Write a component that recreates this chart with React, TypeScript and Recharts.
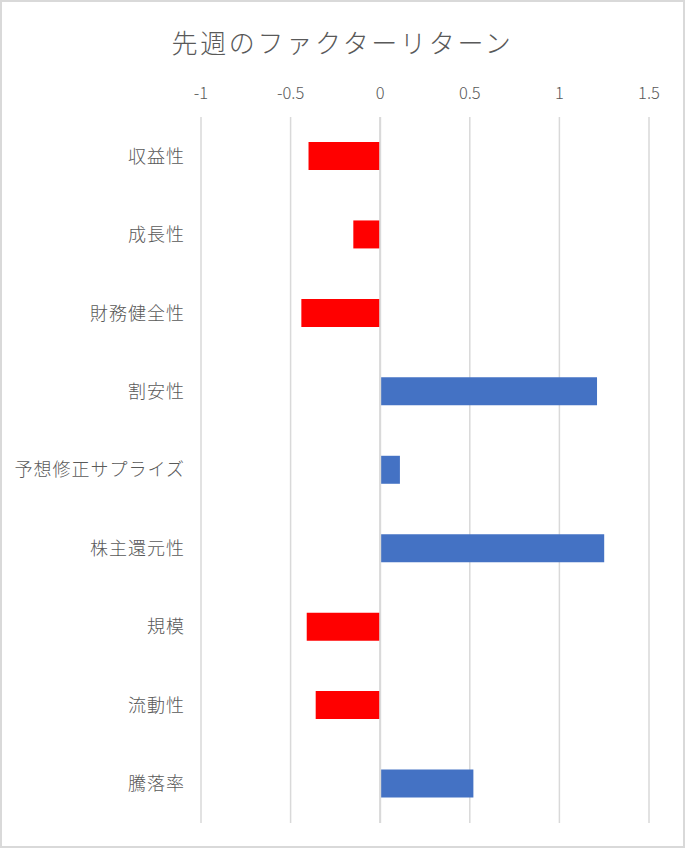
import React from 'react';
import { BarChart, Bar, XAxis, YAxis, CartesianGrid, Cell, ReferenceLine } from 'recharts';

const categories = ['収益性', '成長性', '財務健全性', '割安性', '予想修正サプライズ', '株主還元性', '規模', '流動性', '騰落率'];
const values = [-0.4, -0.15, -0.44, 1.21, 0.11, 1.25, -0.41, -0.36, 0.52];
const xTicks = [-1, -0.5, 0, 0.5, 1, 1.5];
const title = '先週のファクターリターン';

const data = categories.map((name, i) => ({ name, value: values[i] }));

const FONT = '"Noto Sans CJK JP", "Noto Sans", sans-serif';
const TEXT = '#595959';
const GRID = '#d9d9d9';

export default function App() {
  return (
    <div style={{ position: 'absolute', left: 0, top: 0, width: 685, height: 848, background: '#fff', fontFamily: FONT }}>
      <div
        style={{
          position: 'absolute',
          left: 0,
          top: 22,
          width: 685,
          textAlign: 'center',
          fontSize: 26,
          fontWeight: 300,
          letterSpacing: 2.7,
          color: TEXT,
          lineHeight: '40px',
        }}
      >
        {title}
      </div>
      <div style={{ position: 'absolute', left: 0, top: 0 }}>
        <BarChart
          width={685}
          height={848}
          data={data}
          layout="vertical"
          margin={{ top: 87, right: 36, bottom: 25, left: 11 }}
          barSize={28}
        >
          <CartesianGrid horizontal={false} vertical={true} stroke={GRID} strokeWidth={1.5} />
          <XAxis
            type="number"
            orientation="top"
            domain={[-1, 1.5]}
            ticks={xTicks}
            allowDataOverflow
            axisLine={false}
            tickLine={false}
            height={30}
            tickMargin={12}
            tick={{ fill: TEXT, fontSize: 16.5, fontFamily: FONT, fontWeight: 300 }}
          />
          <YAxis
            type="category"
            dataKey="name"
            width={190}
            interval={0}
            axisLine={false}
            tickLine={false}
            tickMargin={10}
            tick={{ fill: TEXT, fontSize: 18, fontFamily: FONT, fontWeight: 300, style: { letterSpacing: 1 } }}
          />
          <Bar dataKey="value" isAnimationActive={false}>
            {data.map((d, i) => (
              <Cell key={i} fill={d.value < 0 ? '#FF0000' : '#4472C4'} />
            ))}
          </Bar>
          <ReferenceLine x={0} stroke={GRID} strokeWidth={2} />
        </BarChart>
      </div>
      <div
        style={{
          position: 'absolute',
          left: 0,
          top: 0,
          width: 685,
          height: 848,
          boxSizing: 'border-box',
          border: `2px solid ${GRID}`,
          pointerEvents: 'none',
        }}
      />
    </div>
  );
}
